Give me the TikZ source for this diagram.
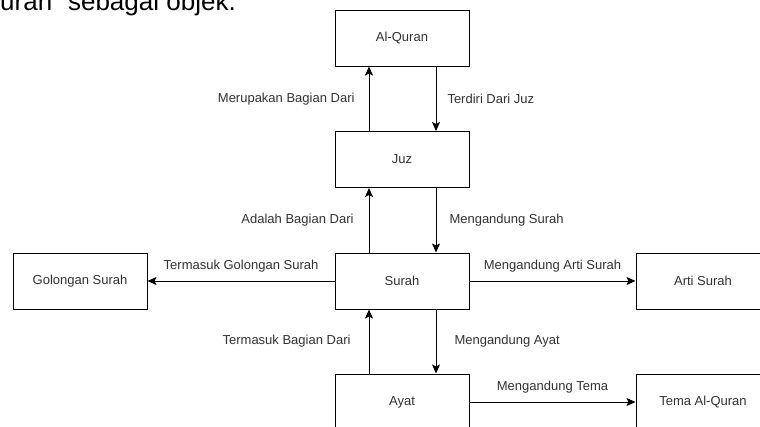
\documentclass[tikz,border=0pt]{standalone}
\usepackage{fontspec}
\setmainfont{Liberation Sans}
\usetikzlibrary{arrows.meta}
\definecolor{txt}{HTML}{333333}
\tikzset{
  box/.style={draw=black, line width=1pt, minimum width=134pt, minimum height=56pt, inner sep=0pt, font=\fontsize{13}{15}\selectfont, text=txt},
  conn/.style={draw=black, line width=1pt, -{Stealth[length=9pt,width=8pt,inset=2pt]}},
  lbl/.style={font=\fontsize{13}{15}\selectfont, text=txt, inner sep=0pt}
}
\begin{document}
\begin{tikzpicture}[x=1pt,y=-1pt]
\clip (0,0) rectangle (760,426);
\fill[white] (0,0) rectangle (760,426);
\node[anchor=base west, inner sep=0pt, font=\fontsize{26}{30}\selectfont] (cap) at (0,10) {uran” sebagai objek.};
\node[box] (alq) at (402,38) {Al-Quran};
\node[box] (juz) at (402,159.5) {Juz};
\node[box] (surah) at (402,281) {Surah};
\node[box] (gol) at (80,281) {Golongan Surah};
\node[box] (arti) at (703,281) {Arti Surah};
\node[box] (ayat) at (402,402) {Ayat};
\node[box] (tema) at (703,402) {Tema Al-Quran};
% vertical connectors
\draw[conn] ([xshift=-33pt]juz.north) -- node[lbl, midway, anchor=east, xshift=-14pt] (l1) {Merupakan Bagian Dari} ([xshift=-33pt]alq.south);
\draw[conn] ([xshift=34pt]alq.south) -- node[lbl, midway, anchor=west, xshift=11pt] (l2) {Terdiri Dari Juz} ([xshift=34pt]juz.north);
\draw[conn] ([xshift=-33pt]surah.north) -- node[lbl, midway, anchor=east, xshift=-15pt] (l3) {Adalah Bagian Dari} ([xshift=-33pt]juz.south);
\draw[conn] ([xshift=34pt]juz.south) -- node[lbl, midway, anchor=west, xshift=13pt] (l4) {Mengandung Surah} ([xshift=34pt]surah.north);
\draw[conn] ([xshift=-33pt]ayat.north) -- node[lbl, midway, anchor=east, xshift=-18pt] (l5) {Termasuk Bagian Dari} ([xshift=-33pt]surah.south);
\draw[conn] ([xshift=34pt]surah.south) -- node[lbl, midway, anchor=west, xshift=18pt] (l6) {Mengandung Ayat} ([xshift=34pt]ayat.north);
% horizontal connectors
\draw[conn] (surah.west) -- node[lbl, midway, yshift=15pt] (l7) {Termasuk Golongan Surah} (gol.east);
\draw[conn] (surah.east) -- node[lbl, midway, yshift=15pt] (l8) {Mengandung Arti Surah} (arti.west);
\draw[conn] (ayat.east) -- node[lbl, midway, yshift=15pt] (l9) {Mengandung Tema} (tema.west);
\end{tikzpicture}
\end{document}
